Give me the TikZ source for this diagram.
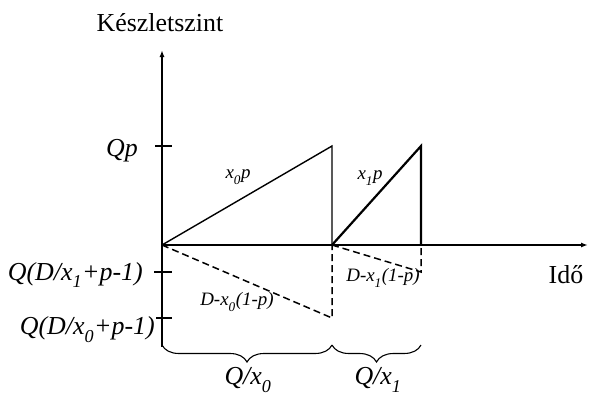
\documentclass[tikz,border=0pt]{standalone}
\usepackage{fontspec}
\setmainfont{Liberation Serif}
\usetikzlibrary{arrows.meta,positioning,decorations.pathreplacing}

\newcommand{\lo}[1]{\raisebox{-0.35ex}{\textsubscript{#1}}}

\begin{document}
\begin{tikzpicture}[
  x=1bp,y=1bp,
  axis/.style={-{Latex[length=7bp,width=5bp]},line width=1.5bp},
  saw/.style={line width=1.4bp},
  sawthick/.style={line width=2.2bp},
  dashline/.style={dash pattern=on 7bp off 4bp,line width=1.5bp},
  tickmark/.style={line width=1.1bp},
  bracket/.style={decorate,decoration={brace,mirror,amplitude=17bp},line width=1.1bp},
  biglabel/.style={font=\fontsize{26}{30}\selectfont\itshape,inner sep=0},
  smalllabel/.style={font=\fontsize{19}{22}\selectfont\itshape,inner sep=0}
]
\useasboundingbox (-162,-153) rectangle (428,245);

% points
\coordinate (O) at (0,0);
\coordinate (ytop) at (0,195);
\coordinate (ybot) at (0,-102);
\coordinate (xend) at (426,0);
\coordinate (peak0) at (170,99);
\coordinate (base0) at (170,0);
\coordinate (low0) at (170,-73);
\coordinate (peak1) at (259,99);
\coordinate (base1) at (259,0);
\coordinate (low1) at (259,-27);

% axes
\draw[line width=1.5bp] (O) -- (ybot);
\draw[axis] (O) -- (ytop);
\draw[axis] (O) -- (xend);
\node[font=\fontsize{26}{30}\selectfont,inner sep=0] (ylab) at (-2,222) {Készletszint};
\node[font=\fontsize{26}{30}\selectfont,inner sep=0] (xlab) at (404,-30) {Idő};

% ticks
\draw[tickmark] (-7,99) -- (10,99);
\draw[tickmark] (-8,-27) -- (10,-27);
\draw[tickmark] (-6,-73) -- (10,-73);
\node[biglabel,anchor=east] (qp) at (-24,94) {Qp};
\node[biglabel,anchor=east] (q1) at (-19,-30) {Q(D/x\lo{1}+p-1)};
\node[biglabel,anchor=east] (q0) at (-7,-85) {Q(D/x\lo{0}+p-1)};

% inventory
\draw[saw] (O) -- (peak0) -- (base0);
\draw[sawthick] (base0) -- (peak1) -- (base1);
\draw[dashline] (O) -- (low0) -- (base0);
\draw[dashline] (base0) -- (low1) -- (base1);
\node[smalllabel] (r0) at (76,68) {x\lo{0}p};
\node[smalllabel] (r1) at (208,67) {x\lo{1}p};
\node[smalllabel] (d0) at (75,-57) {D-x\lo{0}(1-p)};
\node[smalllabel] (d1) at (221,-33) {D-x\lo{1}(1-p)};

% cycles
\draw[bracket] (0,-100) -- (170,-100);
\draw[bracket] (170,-100) -- (259,-100);
\node[biglabel] (c0) at (86,-135) {Q/x\lo{0}};
\node[biglabel] (c1) at (216,-135) {Q/x\lo{1}};
\end{tikzpicture}
\end{document}
